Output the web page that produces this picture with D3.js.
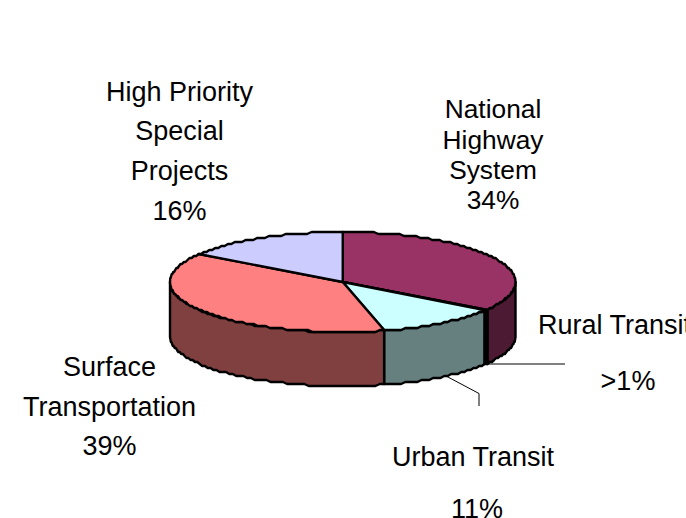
<!DOCTYPE html>
<html>
<head>
<meta charset="utf-8">
<script src="https://cdnjs.cloudflare.com/ajax/libs/d3/7.8.5/d3.min.js"></script>
<style>
html,body{margin:0;padding:0;background:#fff;overflow:hidden}
svg{display:block}
text{font-family:"Liberation Sans",Arial,sans-serif;fill:#000}
</style>
</head>
<body>
<svg id="chart" width="686" height="518"></svg>
<script>
const categories = ["National Highway System","Rural Transit","Urban Transit","Surface Transportation","High Priority Special Projects"];
const values = [34.2,0.5,11.45,38.15,15.7];
const percentLabels = ["34%",">1%","11%","39%","16%"];
const topColors = ["#993366","#000000","#ccffff","#ff8080","#ccccff"];
const sideColors = ["#4d1a33","#000000","#668080","#804040","#666680"];

const svg = d3.select("#chart");
const x = d3.scaleLinear().domain([-1,1]).range([170,515.5]);
const y = d3.scaleLinear().domain([-1,1]).range([232,332]);
const depth = 54;
const QUANT = 2;

const arcs = d3.pie().sort(null).value(d=>d)(values);
const px = a => x(Math.sin(a));
const py = a => Math.round(y(-Math.cos(a))/QUANT)*QUANT;
const STEP = Math.PI/120;
const sample = (a0,a1) => {
  const n = Math.max(1, Math.ceil((a1-a0)/STEP));
  return d3.range(n+1).map(i => a0+(a1-a0)*i/n);
};
const line = d3.line();

const g = svg.append("g").attr("stroke","#000").attr("stroke-linejoin","round");

const halfPi = Math.PI/2, threeHalf = 3*Math.PI/2;
g.selectAll("path.side").data(arcs.filter(d=>d.endAngle>halfPi && d.startAngle<threeHalf))
  .join("path").attr("class","side")
  .attr("fill",d=>sideColors[d.index])
  .attr("stroke-width",2.4)
  .attr("d",d=>{
    const a0=Math.max(d.startAngle,halfPi), a1=Math.min(d.endAngle,threeHalf);
    const as=sample(a0,a1);
    const pts=as.map(a=>[px(a),py(a)]).concat(as.slice().reverse().map(a=>[px(a),py(a)+depth]));
    return line(pts)+"Z";
  });

g.selectAll("path.top").data(arcs).join("path").attr("class","top")
  .attr("fill",d=>topColors[d.index])
  .attr("stroke-width",2.4)
  .attr("d",d=>{
    const pts=[[x(0),y(0)]].concat(sample(d.startAngle,d.endAngle).map(a=>[px(a),py(a)]));
    return line(pts)+"Z";
  });

const leaderRural = [[486,364],[565,364]];
const leaderUrban = [[447,376.5],[479,393.5],[479,406]];
svg.selectAll("path.leader").data([leaderRural,leaderUrban]).join("path").attr("class","leader")
  .attr("fill","none").attr("stroke","#000").attr("stroke-width",1)
  .attr("d",d=>line(d));

const labelLayout = [
  {lines:["National","Highway","System",percentLabels[0]],cx:493,ys:[118,149,179,209],size:26.3},
  {lines:[categories[1]],anchor:"start",cx:538,ys:[334],size:27},
  {lines:[percentLabels[1]],cx:628,ys:[390],size:27},
  {lines:[categories[2]],cx:473,ys:[466],size:27},
  {lines:[percentLabels[2]],cx:477,ys:[518],size:27},
  {lines:["Surface","Transportation",percentLabels[3]],cx:109.5,ys:[376,416,455],size:27},
  {lines:["High Priority","Special","Projects",percentLabels[4]],cx:179.5,ys:[101,140,180,220],size:27}
];
labelLayout.forEach(l=>{
  l.lines.forEach((t,i)=>{
    svg.append("text").attr("x",l.cx).attr("y",l.ys[i]).attr("font-size",l.size)
      .attr("text-anchor",l.anchor||"middle").text(t);
  });
});
</script>
</body>
</html>
